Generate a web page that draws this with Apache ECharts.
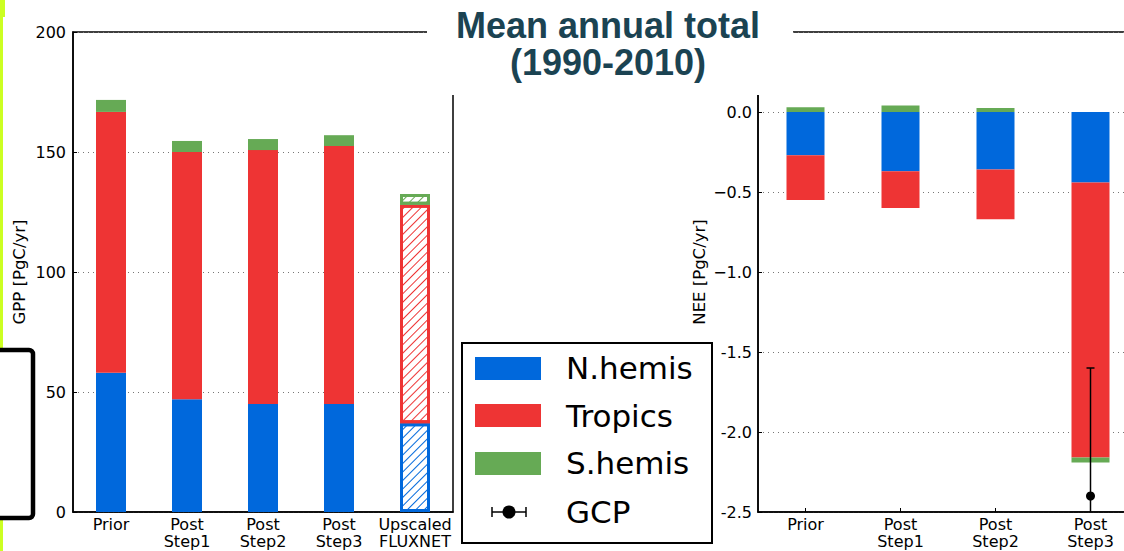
<!DOCTYPE html>
<html>
<head>
<meta charset="utf-8">
<script src="https://cdn.jsdelivr.net/npm/echarts@6/dist/echarts.min.js"></script>
<style>html,body{margin:0;padding:0;background:#fff;overflow:hidden}#c{width:1140px;height:551px}</style>
</head>
<body>
<div id="c"></div>
<script>
// ---- data ----
const categoriesGPP = ['Prior', 'Post\nStep1', 'Post\nStep2', 'Post\nStep3', 'Upscaled\nFLUXNET'];
const gppNhemis = [58, 47, 45, 45, 37];
const gppTropics = [108.7, 103, 105.8, 107.5, 91];
const gppShemis = [5, 4.6, 4.6, 4.5, 4.5];
const categoriesNEE = ['Prior', 'Post\nStep1', 'Post\nStep2', 'Post\nStep3'];
const neeNhemis = [-0.27, -0.37, -0.36, -0.44];
const neeTropics = [-0.28, -0.23, -0.31, -1.72];
const neeShemis = [0.03, 0.04, 0.025, -0.03];
const gcpPoint = [3, -2.4, -3.2, -1.6]; // category index, value, low, high
const gppTicks = [0, 50, 100, 150, 200];
const neeTickLabels = {'0': '0.0', '-0.5': '\u22120.5', '-1': '\u22121.0', '-1.5': '-1.5', '-2': '-2.0', '-2.5': '-2.5'};
const legendNames = ['N.hemis', 'Tropics', 'S.hemis', 'GCP'];

const BLUE = '#0068dc', RED = '#ee3434', GREEN = '#66aa55';
const FONT = 'DejaVu Sans';

function hatched(v, c) {
  return {
    value: v,
    itemStyle: {
      color: '#ffffff', borderColor: c, borderWidth: 3,
      decal: { symbol: 'rect', symbolSize: 1, color: c, dashArrayX: [1, 0], dashArrayY: [1, 5], rotation: -Math.PI / 4 }
    }
  };
}
function withUpscaled(arr, c) {
  return arr.map((v, i) => i === arr.length - 1 ? hatched(v, c) : v);
}

const chart = echarts.init(document.getElementById('c'), null, { renderer: 'svg' });

const tickStyle = { show: true, inside: true, length: 4, alignWithLabel: true, lineStyle: { color: '#000' } };
const xLabel = { color: '#000', fontFamily: FONT, fontSize: 16, lineHeight: 17, margin: 4, interval: 0 };
const nameStyle = { color: '#000', fontFamily: FONT, fontSize: 16.5 };
const splitStyle = { show: true, lineStyle: { color: '#777', width: 1, type: [1, 4] } };
const lineStyle = { show: true, onZero: false, lineStyle: { color: '#000', width: 1.5 } };

const option = {
  animation: false,
  backgroundColor: '#fff',
  grid: [
    { left: 73, top: 32, width: 380, height: 480, show: true, borderColor: '#000', borderWidth: 1.5, backgroundColor: 'transparent' },
    { left: 758, top: 32, width: 380, height: 480, show: true, borderColor: '#000', borderWidth: 1.5, backgroundColor: 'transparent' }
  ],
  xAxis: [
    { type: 'category', gridIndex: 0, data: categoriesGPP, axisLine: lineStyle, axisTick: tickStyle, axisLabel: xLabel },
    { type: 'category', gridIndex: 1, data: categoriesNEE, axisLine: lineStyle, axisTick: tickStyle, axisLabel: xLabel }
  ],
  yAxis: [
    {
      type: 'value', gridIndex: 0, min: gppTicks[0], max: gppTicks[gppTicks.length - 1], interval: 50,
      name: 'GPP [PgC/yr]', nameLocation: 'middle', nameGap: 45, nameTextStyle: nameStyle,
      axisLine: lineStyle,
      axisTick: { show: true, inside: true, length: 4, lineStyle: { color: '#000' } },
      axisLabel: { color: '#000', fontFamily: FONT, fontSize: 16, margin: 7 },
      splitLine: splitStyle
    },
    {
      type: 'value', gridIndex: 1, min: -2.5, max: 0.5, interval: 0.5,
      name: 'NEE [PgC/yr]', nameLocation: 'middle', nameGap: 50, nameTextStyle: nameStyle,
      axisLine: lineStyle,
      axisTick: { show: true, inside: true, length: 4, lineStyle: { color: '#000' } },
      axisLabel: {
        color: '#000', fontFamily: FONT, fontSize: 16, margin: 6,
        formatter: v => { const k = String(Math.round(v * 10) / 10); return neeTickLabels[k] !== undefined ? neeTickLabels[k] : ''; }
      },
      splitLine: splitStyle
    }
  ],
  series: [
    { name: legendNames[0], type: 'bar', xAxisIndex: 0, yAxisIndex: 0, stack: 'gpp', barWidth: 30, itemStyle: { color: BLUE }, data: withUpscaled(gppNhemis, BLUE) },
    { name: legendNames[1], type: 'bar', xAxisIndex: 0, yAxisIndex: 0, stack: 'gpp', barWidth: 30, itemStyle: { color: RED }, data: withUpscaled(gppTropics, RED) },
    { name: legendNames[2], type: 'bar', xAxisIndex: 0, yAxisIndex: 0, stack: 'gpp', barWidth: 30, itemStyle: { color: GREEN }, data: withUpscaled(gppShemis, GREEN) },
    { name: legendNames[0], type: 'bar', xAxisIndex: 1, yAxisIndex: 1, stack: 'nee', barWidth: 38, itemStyle: { color: BLUE }, data: neeNhemis },
    { name: legendNames[1], type: 'bar', xAxisIndex: 1, yAxisIndex: 1, stack: 'nee', barWidth: 38, itemStyle: { color: RED }, data: neeTropics },
    { name: legendNames[2], type: 'bar', xAxisIndex: 1, yAxisIndex: 1, stack: 'nee', barWidth: 38, itemStyle: { color: GREEN }, data: neeShemis },
    {
      name: legendNames[3], type: 'custom', xAxisIndex: 1, yAxisIndex: 1,
      encode: { x: 0, y: 1 },
      data: [gcpPoint],
      z: 5,
      renderItem: function (params, api) {
        const c = api.coord([api.value(0), api.value(1)]);
        const lo = api.coord([api.value(0), api.value(2)]);
        const hi = api.coord([api.value(0), api.value(3)]);
        const cs = params.coordSys;
        const yBottom = Math.min(lo[1], cs.y + cs.height);
        return {
          type: 'group', children: [
            { type: 'line', shape: { x1: c[0], y1: hi[1], x2: c[0], y2: yBottom }, style: { stroke: '#000', lineWidth: 1.5 } },
            { type: 'line', shape: { x1: c[0] - 4, y1: hi[1], x2: c[0] + 4, y2: hi[1] }, style: { stroke: '#000', lineWidth: 1.5 } },
            { type: 'circle', shape: { cx: c[0], cy: c[1], r: 4.5 }, style: { fill: '#000' } }
          ]
        };
      }
    }
  ],
  graphic: [
    // left decorations
    { type: 'rect', shape: { x: 0, y: 0, width: 3, height: 551 }, style: { fill: '#ccff22' }, z: 100 },
    { type: 'rect', shape: { x: 0, y: 0, width: 5, height: 17 }, style: { fill: '#ccff22' }, z: 100 },
    { type: 'rect', shape: { x: -30, y: 350, width: 63, height: 168, r: 4 }, style: { fill: '#fff', stroke: '#000', lineWidth: 4.5 }, z: 101 },
    // title box
    { type: 'rect', shape: { x: 427, y: 0, width: 366, height: 95 }, style: { fill: '#fff' }, z: 100 },
    {
      type: 'text', x: 608, y: 44, z: 101,
      style: { text: 'Mean annual total\n(1990-2010)', fill: '#1b4352', font: 'bold 36px "Liberation Sans", Arial, sans-serif', lineHeight: 37, align: 'center', verticalAlign: 'middle' }
    },
    // legend
    {
      type: 'group', x: 462, y: 343, z: 100,
      children: [
        { type: 'rect', shape: { x: 0, y: 0, width: 250, height: 200 }, style: { fill: '#fff', stroke: '#000', lineWidth: 2 } },
        { type: 'rect', shape: { x: 13, y: 14, width: 66, height: 23 }, style: { fill: BLUE } },
        { type: 'text', x: 104, y: 25, style: { text: legendNames[0], fill: '#000', font: '31px "DejaVu Sans"', verticalAlign: 'middle' } },
        { type: 'rect', shape: { x: 13, y: 61, width: 66, height: 23 }, style: { fill: RED } },
        { type: 'text', x: 104, y: 73, style: { text: legendNames[1], fill: '#000', font: '31px "DejaVu Sans"', verticalAlign: 'middle' } },
        { type: 'rect', shape: { x: 13, y: 109, width: 66, height: 23 }, style: { fill: GREEN } },
        { type: 'text', x: 104, y: 120, style: { text: legendNames[2], fill: '#000', font: '31px "DejaVu Sans"', verticalAlign: 'middle' } },
        { type: 'line', shape: { x1: 30, y1: 169, x2: 64, y2: 169 }, style: { stroke: '#000', lineWidth: 1.5 } },
        { type: 'line', shape: { x1: 30, y1: 164, x2: 30, y2: 174 }, style: { stroke: '#000', lineWidth: 1.5 } },
        { type: 'line', shape: { x1: 64, y1: 164, x2: 64, y2: 174 }, style: { stroke: '#000', lineWidth: 1.5 } },
        { type: 'circle', shape: { cx: 47, cy: 169, r: 6.5 }, style: { fill: '#000' } },
        { type: 'text', x: 104, y: 169, style: { text: legendNames[3], fill: '#000', font: '31px "DejaVu Sans"', verticalAlign: 'middle' } }
      ]
    }
  ]
};
chart.setOption(option);
</script>
</body>
</html>
